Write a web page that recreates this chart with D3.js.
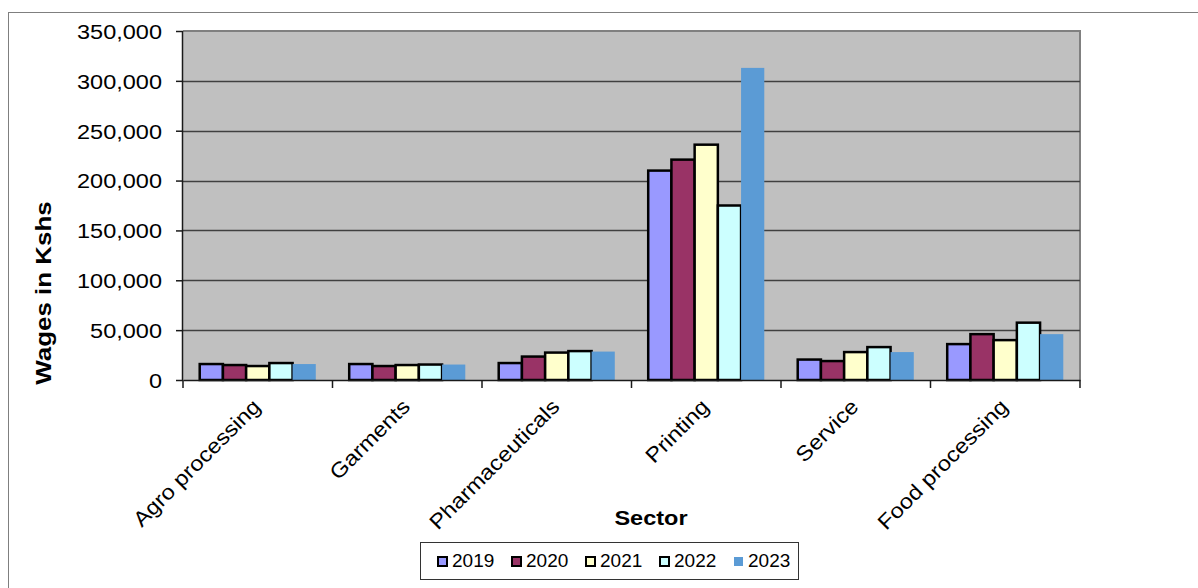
<!DOCTYPE html>
<html>
<head>
<meta charset="utf-8">
<script src="https://cdn.jsdelivr.net/npm/d3@7"></script>
<style>
  html, body { margin: 0; padding: 0; background: #fff; }
  svg { display: block; font-family: "Liberation Sans", Arial, sans-serif; }
</style>
</head>
<body>
<svg id="chart" width="1198" height="588"></svg>
<script>
const categories = ["Agro processing", "Garments", "Pharmaceuticals", "Printing", "Service", "Food processing"];
const years = ["2019", "2020", "2021", "2022", "2023"];
const v2019 = [16000, 16000, 17000, 210000, 20500, 36000];
const v2020 = [15000, 14000, 23500, 221000, 19000, 46000];
const v2021 = [14000, 15000, 27500, 236000, 28000, 40000];
const v2022 = [17000, 15500, 29000, 175000, 33000, 57500];
const v2023 = [16000, 15500, 28500, 313000, 28000, 46000];
const yTicks = [0, 50000, 100000, 150000, 200000, 250000, 300000, 350000];
const colors = ["#9999FF", "#993366", "#FFFFCC", "#CCFFFF", "#5B9BD5"];
const outlined = [true, true, true, true, false];

const series = [v2019, v2020, v2021, v2022, v2023];
const svg = d3.select("#chart");
const SX = 1.12;

// outer chart border
svg.append("rect").attr("x", 8.5).attr("y", 12.5).attr("width", 1200).attr("height", 600)
  .attr("fill", "#fff").attr("stroke", "#7f7f7f").attr("stroke-width", 1);

const pLeft = 183, pRight = 1080, pTop = 31, pBottom = 380;
const x = d3.scaleBand().domain(categories).range([pLeft, pRight]).paddingInner(0).paddingOuter(0);
const xi = d3.scaleBand().domain(years).range([0, x.bandwidth()]).paddingInner(0).paddingOuter(0.72);
const y = d3.scaleLinear().domain([0, 350000]).range([pBottom, pTop]);

// plot background
svg.append("rect").attr("x", pLeft).attr("y", pTop).attr("width", pRight - pLeft).attr("height", pBottom - pTop)
  .attr("fill", "#C0C0C0");
// plot border (top/right)
svg.append("path").attr("d", `M${pLeft},${pTop}H${pRight}V${pBottom}`)
  .attr("fill", "none").attr("stroke", "#808080").attr("stroke-width", 2);

// gridlines
svg.append("g").selectAll("line").data(yTicks.filter(t => t > 0 && t < 350000)).join("line")
  .attr("x1", pLeft).attr("x2", pRight)
  .attr("y1", d => Math.round(y(d)) + 0.5).attr("y2", d => Math.round(y(d)) + 0.5)
  .attr("stroke", "#404040").attr("stroke-width", 1.5);

// bars
const gCat = svg.append("g").selectAll("g").data(categories).join("g")
  .attr("transform", d => `translate(${x(d)},0)`);
gCat.selectAll("rect").data((c, ci) => years.map((yr, si) => ({ yr, si, v: series[si][ci] }))).join("rect")
  .attr("x", d => xi(d.yr))
  .attr("width", xi.bandwidth())
  .attr("y", d => y(d.v))
  .attr("height", d => y(0) - y(d.v))
  .attr("fill", d => colors[d.si])
  .attr("stroke", d => outlined[d.si] ? "#000" : "none")
  .attr("stroke-width", 2.5);

// y axis
const yAxis = d3.axisLeft(y).tickValues(yTicks).tickSize(7).tickFormat(d3.format(","));
const gy = svg.append("g").attr("transform", `translate(${pLeft},0)`).call(yAxis);
gy.select(".domain").attr("stroke", "#1a1a1a").attr("stroke-width", 1.5).attr("d", `M-0.5,${pTop}V${pBottom}`);
gy.selectAll(".tick line").attr("stroke", "#1a1a1a").attr("stroke-width", 1.5);
gy.selectAll(".tick text")
  .attr("x", 0).attr("dy", "0.35em")
  .attr("font-size", 21).attr("fill", "#000").attr("font-family", "Liberation Sans, Arial, sans-serif")
  .attr("transform", `translate(-21,0) scale(${SX},1)`);

// x axis
const xAxis = d3.axisBottom(x).tickSize(0).tickFormat("");
const gx = svg.append("g").attr("transform", `translate(0,${pBottom})`).call(xAxis);
gx.select(".domain").attr("stroke", "#1a1a1a").attr("stroke-width", 1.5);
gx.selectAll(".tick").remove();
// category boundary ticks
const bounds = categories.map(c => x(c)).concat([pRight]);
gx.append("g").selectAll("line").data(bounds).join("line")
  .attr("x1", d => d).attr("x2", d => d).attr("y1", 0).attr("y2", 8)
  .attr("stroke", "#1a1a1a").attr("stroke-width", 1.5);
// category labels rotated
gx.append("g").selectAll("text").data(categories).join("text")
  .attr("transform", d => `translate(${x(d) + x.bandwidth() / 2 + 4},28) rotate(-45) scale(${SX},1)`)
  .attr("text-anchor", "end")
  .attr("font-size", 21)
  .attr("fill", "#000")
  .text(d => d);

// axis titles
svg.append("text")
  .attr("transform", `translate(651,525) scale(${SX},1)`)
  .attr("text-anchor", "middle").attr("font-size", 21).attr("font-weight", "bold").attr("fill", "#000")
  .text("Sector");
svg.append("text")
  .attr("transform", `translate(51,293) rotate(-90) scale(1.18,1)`)
  .attr("text-anchor", "middle").attr("font-size", 22).attr("font-weight", "bold").attr("fill", "#000")
  .text("Wages in Kshs");

// legend
const lg = svg.append("g");
lg.append("rect").attr("x", 420.5).attr("y", 542.5).attr("width", 378).attr("height", 37)
  .attr("fill", "#fff").attr("stroke", "#333").attr("stroke-width", 1);
const li = lg.selectAll("g.item").data(years).join("g").attr("class", "item")
  .attr("transform", (d, i) => `translate(${437 + i * 74},0)`);
li.append("rect").attr("x", 1).attr("y", 557).attr("width", 9).attr("height", 9)
  .attr("fill", (d, i) => colors[i])
  .attr("stroke", (d, i) => outlined[i] ? "#000" : "none").attr("stroke-width", 2);
li.append("text").attr("x", 15).attr("y", 567).attr("font-size", 19).attr("fill", "#000").text(d => d);
</script>
</body>
</html>
